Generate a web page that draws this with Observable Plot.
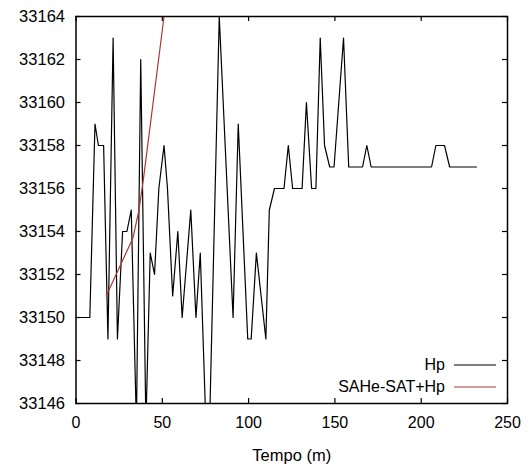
<!DOCTYPE html>
<html>
<head>
<meta charset="utf-8">
<script src="https://cdn.jsdelivr.net/npm/d3@7"></script>
<script src="https://cdn.jsdelivr.net/npm/@observablehq/plot@0.6"></script>
<style>
  html, body { margin: 0; padding: 0; background: #fff; }
  #wrap { position: relative; width: 532px; height: 470px; font-family: "Liberation Sans", Arial, sans-serif; }
  #legend { position: absolute; right: 36px; top: 354px; font-size: 16px; line-height: 22px; color: #000; }
  #legend .row { display: flex; justify-content: flex-end; align-items: center; }
  #legend svg { margin-left: 9px; }
</style>
</head>
<body>
<div id="wrap">
  <div id="chart"></div>
  <div id="legend"></div>
</div>
<script>
// Hp series (time in minutes, value)
const hpTime = [0, 8, 11, 13, 16, 18.5, 21.5, 24, 27, 29.5, 32, 35, 37.5, 40.5, 43, 45.5, 48, 51, 53, 56, 59, 61.5, 66.5, 69.5, 72, 76.5, 83, 91, 94, 99.5, 101.5, 104.5, 110, 112, 115, 120.5, 123, 125.5, 131, 133.5, 136.5, 139, 141.5, 144, 147, 149.5, 155, 158, 166, 168.5, 171, 206, 208.5, 213.5, 216.5, 232];
const hpValue = [33150, 33150, 33159, 33158, 33158, 33149, 33163, 33149, 33154, 33154, 33155, 33145, 33162, 33145, 33153, 33152, 33156, 33158, 33156, 33151, 33154, 33150, 33155, 33150, 33153, 33142, 33164, 33150, 33159, 33149, 33149, 33153, 33149, 33155, 33156, 33156, 33158, 33156, 33156, 33160, 33156, 33156, 33163, 33158, 33157, 33157, 33163, 33157, 33157, 33158, 33157, 33157, 33158, 33158, 33157, 33157];
// SAHe-SAT+Hp series
const satTime = [17.5, 33, 36.5, 39, 51];
const satValue = [33151, 33153.7, 33155, 33156.4, 33164];

const seriesNames = ["Hp", "SAHe-SAT+Hp"];
const seriesColors = ["#000000", "#b03535"];

const xTicks = [0, 50, 100, 150, 200, 250];
const yTicks = [33146, 33148, 33150, 33152, 33154, 33156, 33158, 33160, 33162, 33164];

const hp = hpTime.map((t, i) => ({t, v: hpValue[i]}));
const sat = satTime.map((t, i) => ({t, v: satValue[i]}));

const W = 532, H = 470;
const mL = 75.5, mR = 25, mT = 16, mB = 67;
const pw = W - mL - mR, ph = H - mT - mB;
const tk = 5;

const chart = Plot.plot({
  width: W,
  height: H,
  marginLeft: mL,
  marginRight: mR,
  marginTop: mT,
  marginBottom: mB,
  style: {fontFamily: "Liberation Sans, Arial, sans-serif", fontSize: "16px", background: "#fff", color: "#000"},
  x: {domain: [0, 250], axis: null},
  y: {domain: [33146, 33164], axis: null},
  marks: [
    Plot.line(hp, {x: "t", y: "v", stroke: seriesColors[0], strokeWidth: 1.2, clip: true}),
    Plot.line(sat, {x: "t", y: "v", stroke: seriesColors[1], strokeWidth: 1.2, clip: true}),
    // inward ticks on all four sides
    Plot.tickY(yTicks, {y: d => d, stroke: "#000", strokeWidth: 1.2, insetRight: pw - tk}),
    Plot.tickY(yTicks, {y: d => d, stroke: "#000", strokeWidth: 1.2, insetLeft: pw - tk}),
    Plot.tickX(xTicks, {x: d => d, stroke: "#000", strokeWidth: 1.2, insetTop: ph - tk}),
    Plot.tickX(xTicks, {x: d => d, stroke: "#000", strokeWidth: 1.2, insetBottom: ph - tk}),
    Plot.axisY(yTicks, {anchor: "left", tickSize: 0, tickPadding: 11, tickFormat: d => String(d), fontSize: 16.5, label: null}),
    Plot.axisX(xTicks, {anchor: "bottom", tickSize: 0, tickPadding: 13, tickFormat: d => String(d), fontSize: 16, label: null}),
    Plot.text(["Tempo (m)"], {frameAnchor: "bottom", dy: 57, fontSize: 16.5, fill: "#000"}),
    Plot.frame({stroke: "#000", strokeWidth: 1.5})
  ]
});
document.getElementById("chart").appendChild(chart);

const legend = document.getElementById("legend");
seriesNames.forEach((name, i) => {
  const row = document.createElement("div");
  row.className = "row";
  row.innerHTML = `<span>${name}</span><svg width="42" height="6"><line x1="0" y1="3" x2="42" y2="3" stroke="${seriesColors[i]}" stroke-width="1.2"/></svg>`;
  legend.appendChild(row);
});
</script>
</body>
</html>
